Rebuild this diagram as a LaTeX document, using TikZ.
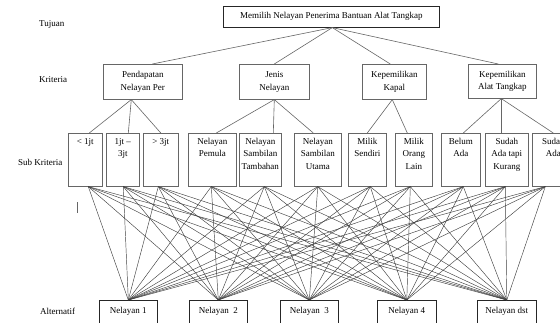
\documentclass[tikz,border=0pt]{standalone}
\usepackage{fontspec}
\setmainfont{Liberation Serif}
\begin{document}
\begin{tikzpicture}[x=1pt,y=-1pt,
  font=\fontsize{9}{12.5}\selectfont,
  box/.style={draw=black!60, line width=0.6pt, inner sep=0pt, anchor=north west, align=center},
  goalbox/.style={box, draw=black!85},
  altbox/.style={box, draw=black!85},
  subtxt/.style={anchor=north, inner sep=0pt, align=center, yshift=-5pt},
  lab/.style={anchor=west, inner sep=0pt},
  conn/.style={draw=black!60, line width=0.6pt},
  altconn/.style={draw=black!75, line width=0.45pt}]
\useasboundingbox (0,0) rectangle (560,322);
\clip (0,0) rectangle (560,322);

% level labels
\node[lab] (LT) at (39,24) {Tujuan};
\node[lab] (LK) at (39,80) {Kriteria};
\node[lab] (LS) at (18,162) {Sub Kriteria};
\node[lab] (LA) at (40,311) {Alternatif};
\coordinate (bar1) at (77,202);
\coordinate (bar2) at (77,213);
\draw[conn] (bar1) -- (bar2);

% goal
\node[goalbox, minimum width=216pt, minimum height=21pt] (T) at (223,6) {Memilih Nelayan Penerima Bantuan Alat Tangkap};

% criteria
\node[box, minimum width=79pt, minimum height=35pt] (K1) at (103,64) {Pendapatan\\Nelayan Per};
\node[box, minimum width=70pt, minimum height=35pt] (K2) at (239,64) {Jenis\\Nelayan};
\node[box, minimum width=64pt, minimum height=35pt] (K3) at (362,64) {Kepemilikan\\Kapal};
\node[box, minimum width=68pt, minimum height=34pt] (K4) at (468,64) {Kepemilikan\\Alat Tangkap};

% sub criteria boxes
\node[box, minimum width=34pt, minimum height=53pt] (S1) at (68,133) {};
\node[box, minimum width=33pt, minimum height=53pt] (S2) at (106,133) {};
\node[box, minimum width=35pt, minimum height=53pt] (S3) at (143,133) {};
\node[box, minimum width=48pt, minimum height=53pt] (S4) at (188,133) {};
\node[box, minimum width=42pt, minimum height=53pt] (S5) at (239,133) {};
\node[box, minimum width=47pt, minimum height=53pt] (S6) at (294,133) {};
\node[box, minimum width=38pt, minimum height=53pt] (S7) at (348,133) {};
\node[box, minimum width=37pt, minimum height=53pt] (S8) at (395,133) {};
\node[box, minimum width=39pt, minimum height=53pt] (S9) at (441,133) {};
\node[box, minimum width=43pt, minimum height=53pt] (S10) at (485,133) {};
\node[box, minimum width=42pt, minimum height=53pt] (S11) at (532,133) {};

\node[subtxt] (S1t) at (S1.north) {< 1jt};
\node[subtxt] (S2t) at (S2.north) {1jt --\\3jt};
\node[subtxt] (S3t) at (S3.north) {> 3jt};
\node[subtxt] (S4t) at (S4.north) {Nelayan\\Pemula};
\node[subtxt] (S5t) at (S5.north) {Nelayan\\Sambilan\\Tambahan};
\node[subtxt] (S6t) at (S6.north) {Nelayan\\Sambilan\\Utama};
\node[subtxt] (S7t) at (S7.north) {Milik\\Sendiri};
\node[subtxt] (S8t) at (S8.north) {Milik\\Orang\\Lain};
\node[subtxt] (S9t) at (S9.north) {Belum\\Ada};
\node[subtxt] (S10t) at (S10.north) {Sudah\\Ada tapi\\Kurang};
\node[subtxt] (S11t) at (S11.north) {Sudah\\Ada};

% alternatives
\node[altbox, minimum width=58pt, minimum height=23pt] (A1) at (99,300) {Nelayan 1};
\node[altbox, minimum width=58pt, minimum height=23pt] (A2) at (189,300) {Nelayan\ \ 2};
\node[altbox, minimum width=58pt, minimum height=23pt] (A3) at (280,300) {Nelayan\ \ 3};
\node[altbox, minimum width=59pt, minimum height=23pt] (A4) at (377,300) {Nelayan 4};
\node[altbox, minimum width=59pt, minimum height=23pt] (A5) at (477,300) {Nelayan dst};

% goal -> criteria
\draw[conn] ([xshift=1pt]T.south) -- ([xshift=9.5pt]K1.north);
\draw[conn] ([xshift=1pt]T.south) -- (K2.north);
\draw[conn] ([xshift=1pt]T.south) -- ([xshift=-4pt]K3.north);
\draw[conn] ([xshift=1pt]T.south) -- ([xshift=-4pt]K4.north);

% criteria -> sub criteria
\draw[conn] ([xshift=-11.5pt]K1.south) -- ([xshift=4pt]S1.north);
\draw[conn] ([xshift=-11.5pt]K1.south) -- ([xshift=5.5pt]S2.north);
\draw[conn] ([xshift=-11.5pt]K1.south) -- (S3.north);
\draw[conn] (K2.south) -- ([xshift=4pt]S4.north);
\draw[conn] (K2.south) -- ([xshift=13pt]S5.north);
\draw[conn] (K2.south) -- ([xshift=-4.5pt]S6.north);
\draw[conn] ([xshift=-2pt]K3.south) -- (S7.north);
\draw[conn] ([xshift=-2pt]K3.south) -- ([xshift=-6.5pt]S8.north);
\draw[conn] ([xshift=-1pt]K4.south) -- ([xshift=2.5pt]S9.north);
\draw[conn] ([xshift=-1pt]K4.south) -- ([xshift=-5.5pt]S10.north);
\draw[conn] ([xshift=-1pt]K4.south) -- (S11.north);

% sub criteria -> alternatives
\foreach \s/\dx in {S1/3, S2/0.5, S3/-2.5, S4/-1, S5/4, S6/0, S7/3, S8/-3.5, S9/2.5, S10/-1.5, S11/-8}
  \foreach \a in {A1,A2,A3,A4,A5}
    \draw[altconn] ([xshift=\dx pt]\s.south) -- (\a.north);
\end{tikzpicture}
\end{document}
